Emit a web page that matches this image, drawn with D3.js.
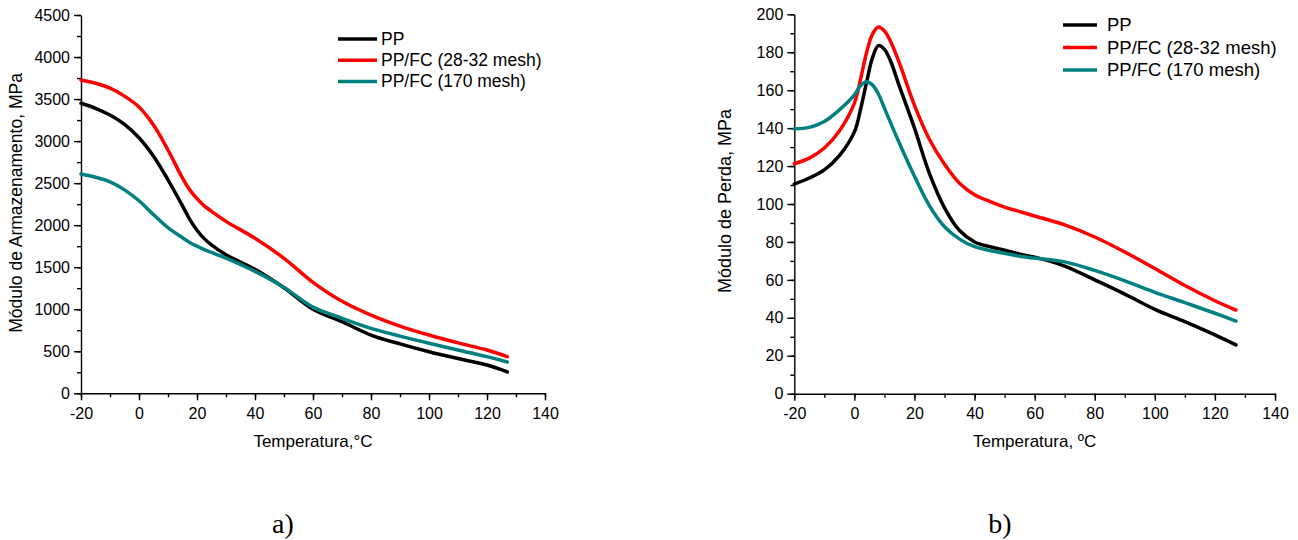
<!DOCTYPE html>
<html>
<head>
<meta charset="utf-8">
<script src="https://cdn.jsdelivr.net/npm/d3@7"></script>
<style>
  body { margin: 0; background: #fff; }
  svg { display: block; }
  text { font-family: "Liberation Sans", Arial, sans-serif; fill: #000; }
  .caption { font-family: "Liberation Serif", "Times New Roman", serif; }
</style>
</head>
<body>
<svg id="chart" width="1298" height="540"></svg>
<script>
// ---- Panel a) storage modulus (MPa) vs temperature (°C) ----
const storageTemps  = [-20, -15, -10, -5, 0, 5, 10, 15, 17.5, 20, 22.5, 25, 30, 40, 50, 60, 70, 80, 90, 100, 110, 120, 127];
const storagePP     = [3450, 3390, 3310, 3200, 3040, 2820, 2540, 2230, 2070, 1940, 1840, 1765, 1648, 1475, 1255, 1000, 852, 693, 588, 495, 413, 337, 255];
const storageFC2832 = [3727, 3688, 3630, 3535, 3405, 3191, 2894, 2560, 2420, 2315, 2230, 2165, 2045, 1844, 1606, 1320, 1095, 931, 800, 693, 600, 515, 436];
const storageFC170  = [2609, 2570, 2515, 2420, 2290, 2125, 1970, 1850, 1795, 1750, 1710, 1675, 1608, 1450, 1260, 1025, 892, 773, 680, 595, 515, 436, 372];

// ---- Panel b) loss modulus (MPa) vs temperature (°C) ----
const lossTemps  = [-20, -15, -10, -5, 0, 2, 4, 6, 8, 10, 12, 15, 20, 25, 30, 35, 40, 45, 50, 55, 60, 70, 80, 90, 100, 110, 120, 127];
const lossPP     = [110.5, 113.7, 118, 125.5, 138, 149.6, 163.7, 177, 183.5, 181.5, 175.5, 162, 140, 116, 98, 86, 80, 77.5, 75.7, 73.6, 72, 67.3, 60, 52.5, 44.5, 38, 31, 25.7];
const lossFC2832 = [121.2, 124.2, 129.5, 138.5, 153.2, 165.4, 179.5, 189.5, 193.3, 191.2, 185.8, 174.2, 152, 134, 121, 111, 104.9, 101.4, 98.4, 96, 93.7, 89, 82.6, 74.7, 66, 57, 49, 44.1];
const lossFC170  = [139.6, 140.4, 143.5, 149.6, 157.5, 162.3, 164.5, 162.8, 158, 150.5, 143, 132, 114.6, 99, 88, 81.5, 77.5, 75.5, 74, 72.5, 71.5, 69.5, 65, 59.5, 53.4, 48, 42.4, 38.3];

const seriesNames  = ["PP", "PP/FC (28-32 mesh)", "PP/FC (170 mesh)"];
const seriesColors = ["#000000", "#ff0000", "#008080"];

const xTicks = [-20, 0, 20, 40, 60, 80, 100, 120, 140];
const plainNumber = d => String(d);

const svg = d3.select("#chart");

function drawPanel(cfg) {
  const x = d3.scaleLinear().domain([-20, 140]).range([cfg.left, cfg.right]);
  const y = d3.scaleLinear().domain([0, cfg.yMax]).range([cfg.bottom, cfg.top]);
  const g = svg.append("g");

  // minor ticks (no labels)
  const minorX = d3.axisBottom(x).tickValues(d3.range(-20, 141, 10)).tickSize(4).tickFormat("");
  const minorY = d3.axisLeft(y).tickValues(d3.range(0, cfg.yMax + 1, cfg.yStep / 2)).tickSize(4).tickFormat("");
  g.append("g").attr("transform", `translate(0,${cfg.bottom})`).call(minorX)
    .call(s => s.select(".domain").remove());
  g.append("g").attr("transform", `translate(${cfg.left},0)`).call(minorY)
    .call(s => s.select(".domain").remove());

  // major axes
  const xAxis = d3.axisBottom(x).tickValues(xTicks).tickFormat(plainNumber)
    .tickSize(7).tickPadding(7).tickSizeOuter(0);
  const yAxis = d3.axisLeft(y).tickValues(d3.range(0, cfg.yMax + 1, cfg.yStep)).tickFormat(plainNumber)
    .tickSize(7).tickPadding(4).tickSizeOuter(0);
  g.append("g").attr("transform", `translate(0,${cfg.bottom})`).call(xAxis);
  g.append("g").attr("transform", `translate(${cfg.left},0)`).call(yAxis);

  g.selectAll(".tick line, .domain").attr("stroke", "#000").attr("stroke-width", 1.4);
  g.selectAll(".tick text")
    .style("font-size", cfg.tickFont + "px")
    .style("font-family", "'Liberation Sans', Arial, sans-serif")
    .attr("fill", "#000");

  // curves
  const line = d3.line()
    .x((d, i) => x(cfg.temps[i]))
    .y(d => y(d))
    .curve(d3.curveCatmullRom.alpha(0.5));
  cfg.series.forEach((vals, k) => {
    g.append("path")
      .attr("d", line(vals))
      .attr("fill", "none")
      .attr("stroke", seriesColors[k])
      .attr("stroke-width", 3.5)
      .attr("stroke-linejoin", "round")
      .attr("stroke-linecap", "round");
  });

  // axis titles
  g.append("text")
    .attr("x", (cfg.left + cfg.right) / 2)
    .attr("y", cfg.xTitleY)
    .attr("text-anchor", "middle")
    .attr("font-size", 17)
    .text(cfg.xTitle);
  g.append("text")
    .attr("transform", `translate(${cfg.yTitleX},${cfg.yTitleCY}) rotate(-90)`)
    .attr("text-anchor", "middle")
    .attr("font-size", cfg.yTitleFont)
    .text(cfg.yTitle);

  // legend
  cfg.series.forEach((vals, k) => {
    const ly = cfg.legY + k * cfg.legGap;
    g.append("line")
      .attr("x1", cfg.legX1).attr("x2", cfg.legX2)
      .attr("y1", ly).attr("y2", ly)
      .attr("stroke", seriesColors[k]).attr("stroke-width", 3.5);
    g.append("text")
      .attr("x", cfg.legText)
      .attr("y", ly + 6)
      .attr("font-size", cfg.legFont)
      .text(seriesNames[k]);
  });

  // panel caption
  g.append("text")
    .attr("class", "caption")
    .attr("x", cfg.capX)
    .attr("y", 533)
    .attr("text-anchor", "middle")
    .attr("font-size", 28)
    .text(cfg.caption);
}

drawPanel({
  left: 81, right: 545, top: 15, bottom: 393.3,
  yMax: 4500, yStep: 500, tickFont: 16,
  temps: storageTemps,
  series: [storagePP, storageFC2832, storageFC170],
  xTitle: "Temperatura,°C", xTitleY: 446.5,
  yTitle: "Módulo de Armazenamento, MPa", yTitleX: 22, yTitleCY: 203, yTitleFont: 17.5,
  legX1: 338, legX2: 377, legText: 381, legY: 39, legGap: 21.2, legFont: 17.5,
  capX: 283, caption: "a)"
});

drawPanel({
  left: 794.3, right: 1275, top: 14.3, bottom: 393.7,
  yMax: 200, yStep: 20, tickFont: 16,
  temps: lossTemps,
  series: [lossPP, lossFC2832, lossFC170],
  xTitle: "Temperatura, ºC", xTitleY: 446.5,
  yTitle: "Módulo de Perda, MPa", yTitleX: 731, yTitleCY: 201, yTitleFont: 18,
  legX1: 1063, legX2: 1097, legText: 1107, legY: 25, legGap: 22.5, legFont: 18.5,
  capX: 1000, caption: "b)"
});
</script>
</body>
</html>
